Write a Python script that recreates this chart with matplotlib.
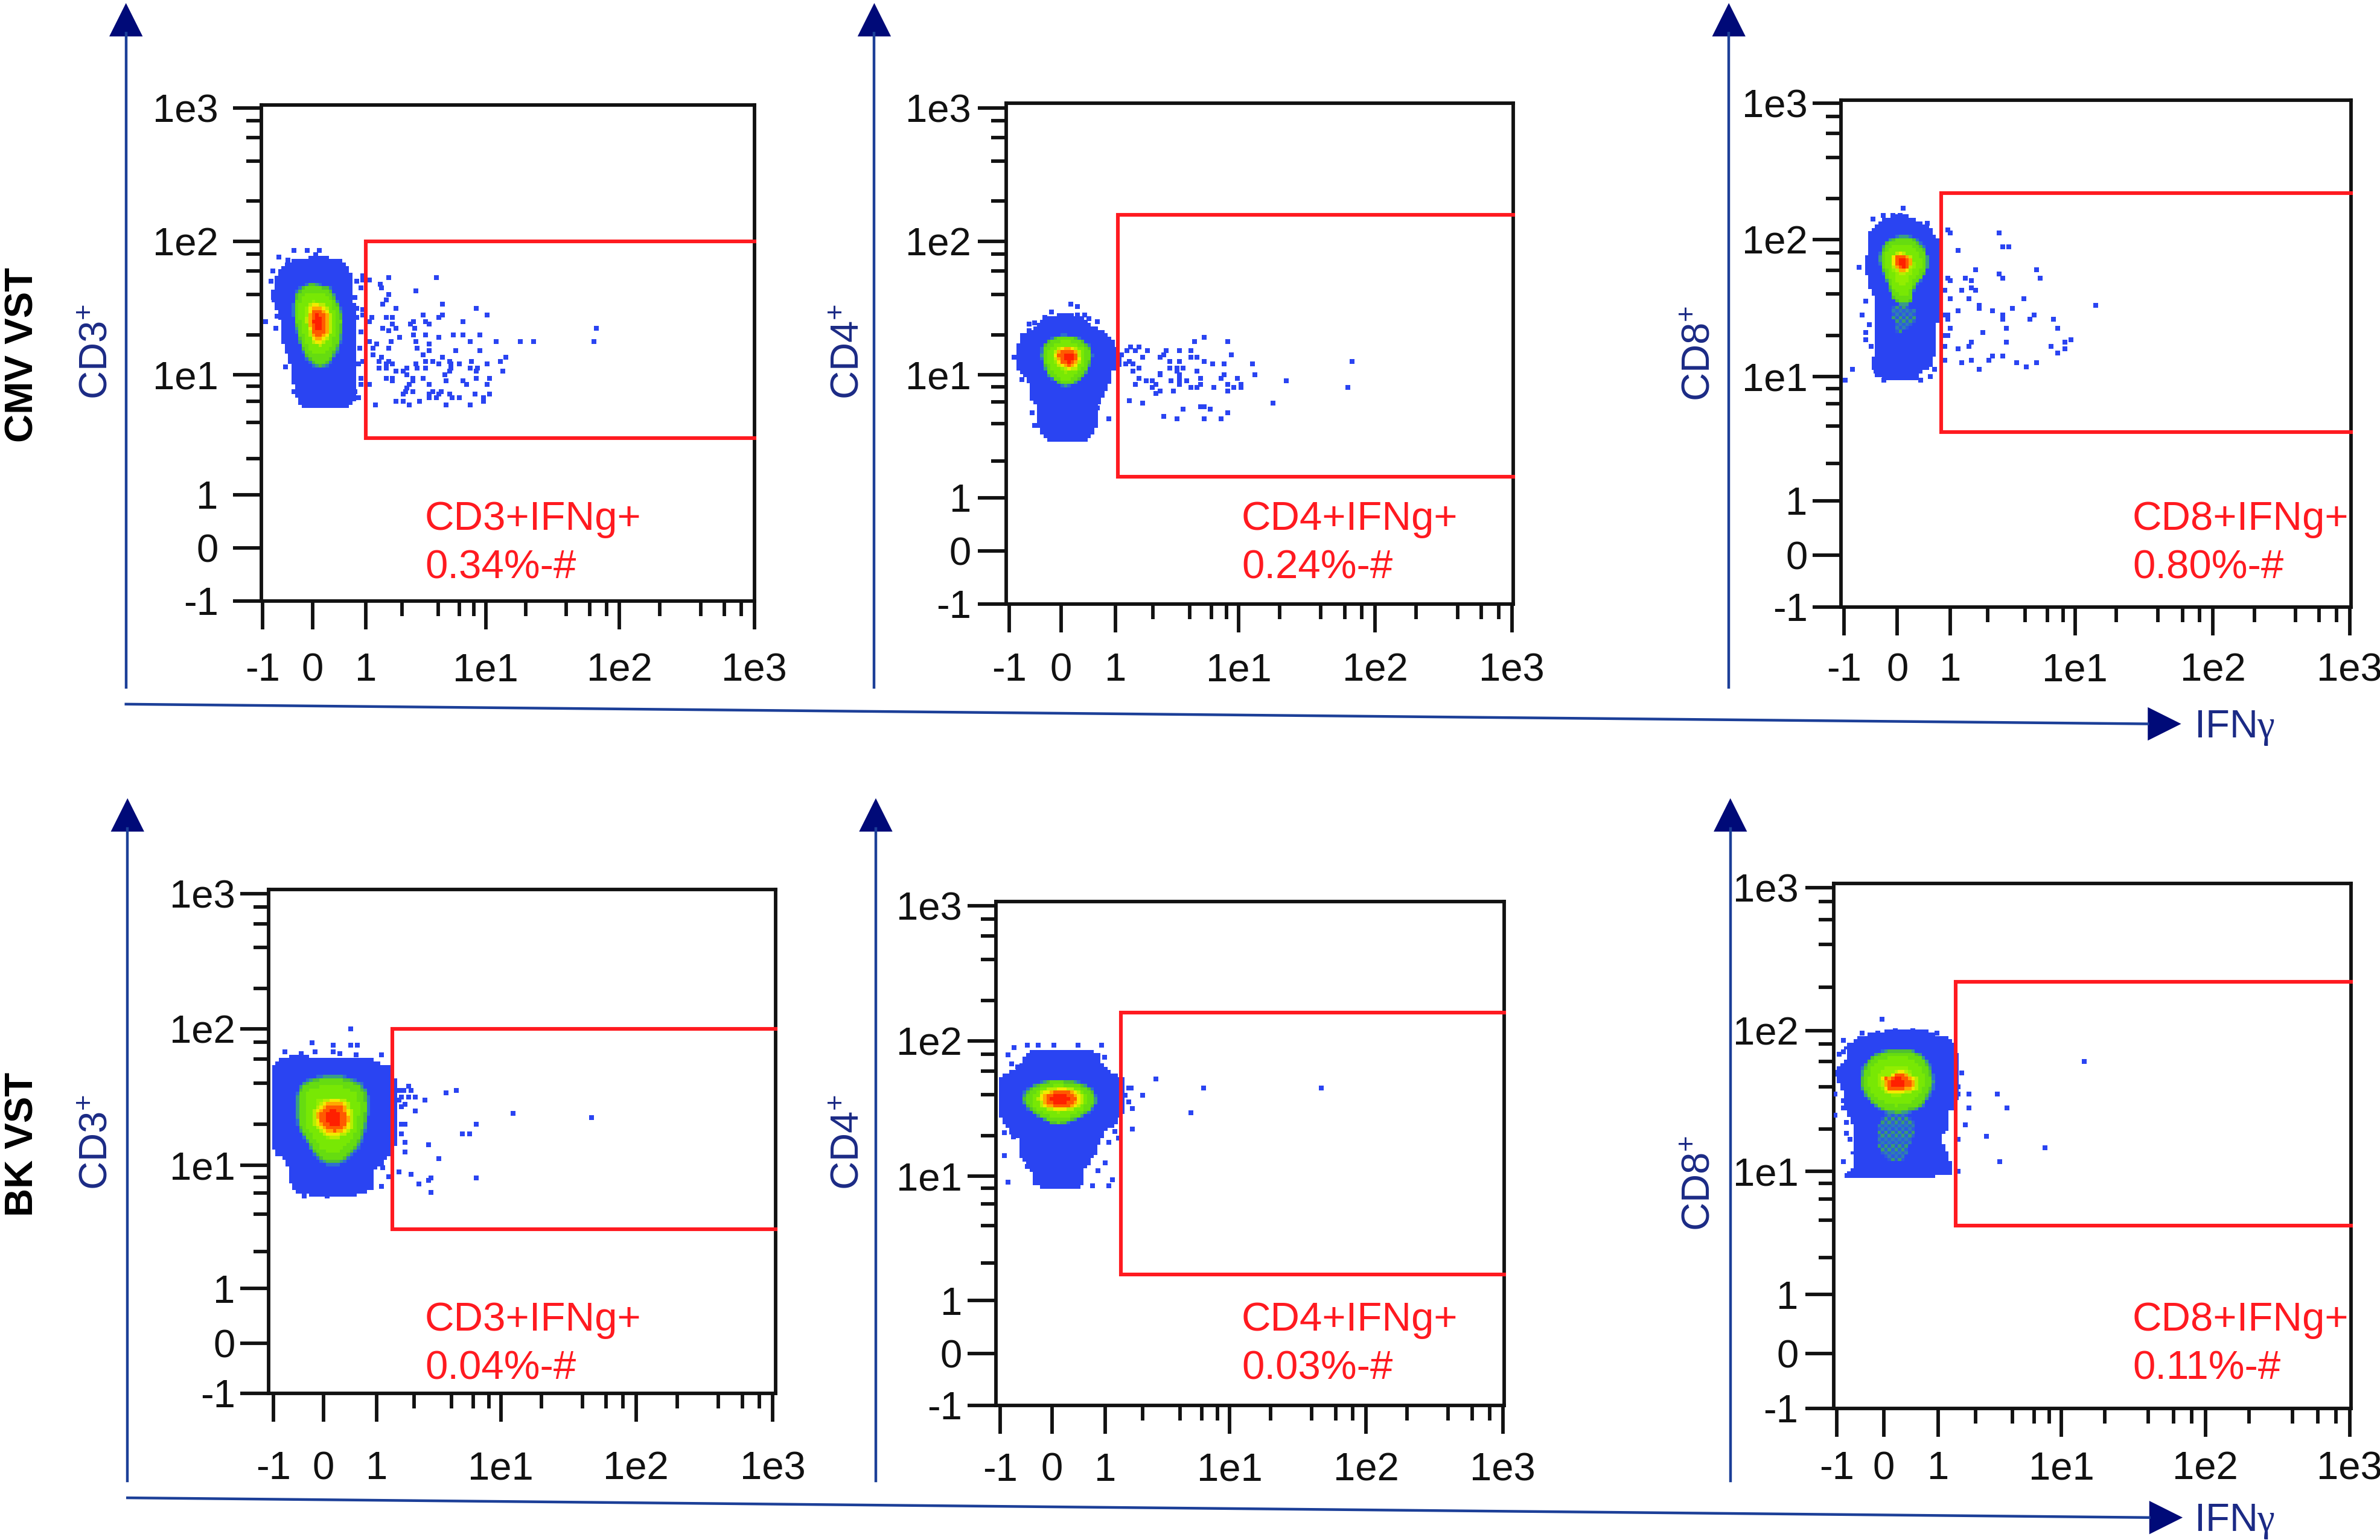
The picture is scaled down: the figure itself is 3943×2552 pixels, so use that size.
import matplotlib
matplotlib.use('Agg')
import matplotlib.pyplot as plt
from matplotlib.colors import BoundaryNorm, ListedColormap
from matplotlib.path import Path
from matplotlib.ticker import NullFormatter
import numpy as np

plt.rcParams['font.family'] = ['Liberation Sans', 'DejaVu Sans']
plt.rcParams['mathtext.fontset'] = 'custom'
plt.rcParams['mathtext.rm'] = 'Liberation Sans'
plt.rcParams['mathtext.default'] = 'rm'

# all values are in axis units: -1, 0, 1, then 2=1e1, 3=1e2, 4=1e3
TICK_UNITS = [-1, 0, 1, 2, 3, 4]
TICK_LABELS = ['-1', '0', '1', '1e1', '1e2', '1e3']
MINOR_MULTIPLES = [2, 4, 6, 8]
DECADES = [1, 2, 3]

TITLES = ['CD3+IFNg+', 'CD4+IFNg+', 'CD8+IFNg+', 'CD3+IFNg+', 'CD4+IFNg+', 'CD8+IFNg+']
PERCENTS = ['0.34%-#', '0.24%-#', '0.80%-#', '0.04%-#', '0.03%-#', '0.11%-#']
MARKERS = ['CD3', 'CD4', 'CD8', 'CD3', 'CD4', 'CD8']

GATE_LEFT = [1.0, 1.02, 0.83, 1.13, 1.13, 1.14]
GATE_TOP = [3.0, 3.20, 3.34, 3.0, 3.21, 3.34]
GATE_BOTTOM = [1.47, 1.17, 1.55, 1.48, 1.21, 1.56]

# events outside the dense population, as (y, [x, ...]) rows
cd3_cmv_rows = [
  (2.73, [1.19, 1.59]), (2.71, [1.03]), (2.68, [1.12]), (2.65, [1.13]), (2.63, [1.42]), (2.60, [1.19]),
  (2.56, [1.17]), (2.53, [1.14, 1.64]), (2.50, [1.25, 1.92]), (2.45, [1.48, 1.64, 2.01]),
  (2.43, [1.05, 1.17, 1.22, 1.61]), (2.40, [1.03, 1.40, 1.50, 1.81]), (2.38, [1.22, 1.37, 1.53]),
  (2.35, [1.14, 1.25, 1.41, 2.83]), (2.33, [1.19]), (2.30, [1.40, 1.50, 1.73, 1.81, 1.95]), (2.28, [1.28, 1.61]),
  (2.25, [1.03, 1.21, 1.42, 1.87, 2.08, 2.26, 2.36, 2.81]), (2.23, [1.09, 1.53]), (2.20, [1.06, 1.19, 1.43]),
  (2.18, [1.53, 1.75, 1.95]), (2.15, [1.06, 1.48]), (2.13, [1.13, 1.64, 2.15]),
  (2.10, [1.11, 1.19, 1.50, 1.56, 1.70, 1.88, 2.11]), (2.08, [1.17, 1.22, 1.42, 1.61, 1.71, 1.78, 2.01]),
  (2.05, [1.11, 1.17, 1.34, 1.43, 1.50, 1.71, 1.87, 1.93]), (2.03, [1.25, 1.31, 1.70, 1.92, 2.13]),
  (2.00, [1.34, 1.66]), (1.97, [1.17, 1.22, 1.39, 1.48, 1.92, 2.03]), (1.95, [1.22, 1.39, 1.67, 1.81]),
  (1.92, [1.03, 1.36, 1.53, 1.84, 2.01]), (1.89, [1.34]), (1.86, [1.33, 1.39, 1.56, 1.63]),
  (1.84, [1.31, 1.53, 1.61, 1.70, 1.91, 2.03]), (1.81, [1.53, 1.59, 1.72, 1.78, 1.98]),
  (1.78, [1.25, 1.31, 1.45, 1.98]), (1.75, [1.08, 1.36, 1.67, 1.87]),
  (2.93, [-0.37, -0.11, 0.13]), (2.90, [0.06]), (2.88, [-0.67]), (2.86, [-0.49]), (2.78, [-0.80]),
  (2.74, [0.94]), (2.71, [0.94]), (2.70, [-0.83, 0.83]), (2.65, [0.91]), (2.62, [-0.74]), (2.58, [0.80]),
  (2.56, [-0.77]), (2.50, [0.83]), (2.49, [0.94]), (2.45, [0.94]), (2.44, [-0.71]), (2.43, [0.83]),
  (2.40, [-0.94]), (2.35, [-0.74]), (2.32, [0.91]), (2.20, [0.89]), (2.10, [0.94]), (2.08, [0.86]),
  (2.06, [-0.54]), (1.97, [0.91]), (1.92, [0.91]), (1.86, [-0.37, 0.80]), (1.81, [0.51, 0.63, 0.86]),
]
cd4_cmv_rows = [
  (2.28, [1.72]), (2.25, [1.64, 1.91]), (2.21, [1.12, 1.19]), (2.18, [1.09, 1.16, 1.26, 1.41, 1.52, 1.61]),
  (2.15, [1.05, 1.39, 1.94]), (2.13, [1.22, 1.36, 1.61, 1.66]), (2.10, [1.11, 1.44, 1.52, 1.72, 2.83]),
  (2.08, [1.08, 1.14, 1.79, 1.88, 2.10]), (2.05, [1.19, 1.44, 1.50, 1.55]), (2.03, [1.14, 1.50, 1.66]),
  (2.01, [1.36]), (2.00, [1.36, 1.52, 1.88, 2.12]), (1.97, [1.19, 1.52, 1.69, 1.86, 1.99]),
  (1.95, [1.25, 1.30, 1.45, 1.52, 1.58, 2.35]), (1.92, [1.16, 1.33, 1.52, 1.69, 1.91, 2.02]),
  (1.90, [1.30, 1.61, 1.66, 1.80, 1.96, 2.02, 2.80]), (1.87, [1.36, 1.47, 1.91]), (1.85, [1.33]),
  (1.79, [1.11]), (1.77, [1.22, 2.25]), (1.74, [1.69, 1.72]), (1.72, [1.55, 1.77]), (1.69, [1.91]),
  (1.66, [1.39]), (1.64, [0.88, 1.50, 1.72, 1.86]),
  (2.53, [0.18]), (2.51, [0.30]), (2.47, [-0.19]), (2.45, [0.30, 0.43]), (2.43, [-0.31]), (2.42, [0.51]),
  (2.40, [0.67]), (2.39, [-0.51]), (2.38, [-0.62]), (2.33, [-0.62]), (2.13, [-0.91]), (1.96, [-0.76]),
  (1.95, [-0.62]), (1.73, [0.67]), (1.69, [-0.56]), (1.59, [-0.51]),
]
cd8_cmv_rows = [
  (3.07, [0.95]), (3.05, [1.00, 1.39]), (2.95, [1.42, 1.47]), (2.92, [1.06]), (2.78, [1.20, 1.69]), (2.75, [1.39]),
  (2.72, [0.95, 1.12, 1.42, 1.72]), (2.70, [1.00, 1.17]), (2.65, [1.17]), (2.63, [0.89, 1.09, 1.20]),
  (2.57, [1.00, 1.15, 1.59]), (2.52, [1.23, 2.15]), (2.50, [1.23, 1.50]), (2.48, [1.06, 1.34]),
  (2.45, [0.89, 0.95, 1.42, 1.67]), (2.42, [0.95, 1.42, 1.64, 1.83]), (2.35, [1.00, 1.45, 1.86]), (2.32, [1.26]),
  (2.30, [0.89, 0.95]), (2.27, [1.97]), (2.25, [1.17, 1.45, 1.92]), (2.22, [0.89, 1.15, 1.81]),
  (2.20, [1.06, 1.92]), (2.17, [1.86]), (2.15, [1.34, 1.42]), (2.12, [0.89, 1.17, 1.31]),
  (2.10, [1.09, 1.53, 1.69]), (2.07, [1.61]), (2.05, [1.23]),
  (3.23, [0.11]), (3.18, [-0.27, -0.08, 0.05]), (3.15, [-0.46]), (3.12, [0.56]), (2.80, [-0.72]), (2.55, [-0.60]),
  (2.45, [-0.66]), (2.38, [-0.53]), (2.32, [-0.60]), (2.27, [-0.60]), (2.22, [-0.49]), (2.05, [-0.85, 0.70]),
  (2.04, [-0.40]), (2.00, [0.62]), (1.97, [-0.98, -0.25, 0.44]),
]
cd3_bk_rows = [
  (2.58, [1.26]), (2.55, [1.18, 1.22, 1.28, 1.64]), (2.53, [1.56]), (2.50, [1.20, 1.26, 1.31]), (2.48, [1.18, 1.39]),
  (2.45, [1.23]), (2.43, [1.20]), (2.40, [1.31]), (2.38, [2.09]), (2.35, [2.67]), (2.30, [1.20, 1.23, 1.80]),
  (2.23, [1.20, 1.69, 1.75]), (2.17, [1.23]), (2.15, [1.42]), (2.10, [1.23]), (2.05, [1.50]), (1.95, [1.18]),
  (1.93, [1.28]), (1.90, [1.44, 1.80]), (1.88, [1.42]), (1.85, [1.34]), (1.78, [1.44]),
  (3.00, [0.51]), (2.90, [-0.22]), (2.88, [0.19, 0.51, 0.64]), (2.83, [-0.77, -0.16, 0.19]), (2.82, [-0.44, 0.31]),
  (2.81, [0.62, 1.04]), (1.98, [1.05]), (1.91, [1.10]), (1.83, [1.04]), (1.75, [-0.38, 0.07]),
]
cd4_bk_rows = [
  (2.72, [1.41]), (2.65, [1.19, 1.21, 1.79, 2.67]), (2.60, [1.16, 1.30]), (2.55, [1.19]), (2.50, [1.22]),
  (2.47, [1.69]), (2.35, [1.22]),
  (2.97, [-0.48, -0.26, 0.04, 0.49, 0.94]), (2.95, [-0.73]), (2.90, [-0.85]), (2.88, [0.99]), (2.83, [-0.78]),
  (2.81, [-0.66]), (2.33, [1.08]), (2.32, [-0.92]), (2.29, [-0.74]), (2.28, [1.11]), (2.25, [1.03]), (2.15, [-0.92]),
  (2.10, [1.00]), (2.07, [-0.47]), (2.04, [0.87]), (1.97, [1.06]), (1.95, [-0.85]), (1.92, [0.76, 1.03]),
]
cd8_bk_rows = [
  (2.78, [2.16]), (2.70, [1.19]), (2.60, [1.16]), (2.55, [1.16, 1.25, 1.48]), (2.45, [1.25, 1.56]), (2.33, [1.22]),
  (2.25, [1.39]), (2.23, [1.16]), (2.17, [1.87]), (2.07, [1.50]), (2.00, [1.16]),
  (3.08, [-0.04]), (3.00, [0.21, 0.53]), (2.98, [-0.46, -0.12, 0.97]), (2.93, [-0.86]), (2.85, [-0.86]),
  (2.83, [-0.95]), (2.55, [-1.03]), (2.50, [-0.86]), (2.45, [-0.86]), (2.40, [-1.03]), (2.35, [-0.79]),
  (2.27, [-0.79]), (2.23, [-0.71]), (2.07, [-0.86]), (1.97, [-0.78]),
]

# outlines of the density levels, (x, y)
cd3_cmv_outer = [(-0.17, 2.86), (0.40, 2.86), (0.60, 2.82), (0.71, 2.74), (0.76, 2.50), (0.78, 2.20), (0.82, 2.00),
                 (0.76, 1.91), (0.80, 1.81), (0.66, 1.74), (-0.20, 1.74), (-0.31, 1.81), (-0.37, 1.92), (-0.40, 2.04),
                 (-0.51, 2.17), (-0.60, 2.29), (-0.63, 2.44), (-0.80, 2.56), (-0.69, 2.74), (-0.54, 2.82)]
cd3_cmv_green = [(-0.17, 2.65), (-0.03, 2.68), (0.11, 2.66), (0.31, 2.65), (0.40, 2.58), (0.54, 2.46), (0.54, 2.34),
                 (0.46, 2.19), (0.23, 2.07), (0.0, 2.08), (-0.20, 2.20), (-0.34, 2.38), (-0.37, 2.49), (-0.31, 2.62)]
cd3_cmv_core = [(0.0, 2.50), (0.17, 2.49), (0.27, 2.44), (0.27, 2.32), (0.14, 2.27), (0.05, 2.28), (-0.05, 2.37), (-0.05, 2.43)]

cd4_cmv_outer = [(-0.03, 2.44), (0.23, 2.44), (0.51, 2.39), (0.51, 2.34), (0.76, 2.33), (0.84, 2.29), (0.96, 2.22),
                 (1.02, 2.13), (1.02, 2.04), (0.86, 2.01), (0.91, 1.96), (0.76, 1.85), (0.71, 1.79), (0.61, 1.68),
                 (0.66, 1.59), (0.48, 1.50), (0.46, 1.47), (0.03, 1.47), (-0.25, 1.48), (-0.41, 1.56), (-0.46, 1.67),
                 (-0.43, 1.75), (-0.56, 1.79), (-0.53, 1.90), (-0.66, 1.99), (-0.84, 2.05), (-0.84, 2.14), (-0.76, 2.29),
                 (-0.61, 2.31), (-0.46, 2.36), (-0.30, 2.40)]
cd4_cmv_green = [(-0.20, 2.26), (0.0, 2.29), (0.25, 2.28), (0.51, 2.22), (0.56, 2.14), (0.48, 2.04), (0.30, 1.95),
                 (0.10, 1.91), (-0.10, 1.95), (-0.28, 2.02), (-0.36, 2.13), (-0.33, 2.22)]
cd4_cmv_core = [(0.0, 2.19), (0.23, 2.19), (0.30, 2.13), (0.25, 2.07), (0.08, 2.06), (-0.08, 2.13)]

cd8_cmv_outer = [(-0.26, 3.14), (0.26, 3.16), (0.42, 3.10), (0.64, 3.08), (0.68, 2.99), (0.79, 2.99), (0.80, 2.40),
                 (0.68, 2.39), (0.68, 2.17), (0.64, 2.08), (0.42, 2.05), (0.38, 1.99), (-0.15, 1.99), (-0.38, 2.02),
                 (-0.45, 2.08), (-0.47, 2.12), (-0.38, 2.20), (-0.42, 2.35), (-0.42, 2.45), (-0.38, 2.52), (-0.45, 2.61),
                 (-0.57, 2.71), (-0.55, 2.93), (-0.55, 3.04), (-0.38, 3.07)]
cd8_cmv_green = [(-0.15, 2.99), (0.15, 3.03), (0.42, 2.98), (0.58, 2.86), (0.51, 2.74), (0.30, 2.67), (0.28, 2.55),
                 (0.08, 2.53), (-0.09, 2.58), (-0.15, 2.68), (-0.30, 2.80), (-0.32, 2.88), (-0.25, 2.95)]
cd8_cmv_tail = [(-0.08, 2.52), (0.34, 2.50), (0.32, 2.39), (0.11, 2.33), (-0.02, 2.32), (-0.08, 2.46)]
cd8_cmv_core = [(-0.04, 2.89), (0.19, 2.88), (0.26, 2.83), (0.11, 2.76), (-0.04, 2.81)]

cd3_bk_outer = [(-0.61, 2.79), (0.10, 2.77), (0.90, 2.77), (0.99, 2.73), (1.13, 2.71), (1.13, 2.13), (1.06, 2.07),
                (1.01, 2.01), (0.90, 1.94), (0.90, 1.77), (-0.54, 1.77), (-0.66, 1.90), (-0.66, 2.01), (-0.82, 2.07),
                (-0.99, 2.10), (-1.0, 2.73), (-0.80, 2.76)]
cd3_bk_green = [(-0.35, 2.61), (0.0, 2.64), (0.38, 2.64), (0.71, 2.59), (0.83, 2.47), (0.78, 2.31), (0.67, 2.16),
                (0.43, 2.06), (0.17, 2.01), (-0.09, 2.06), (-0.30, 2.18), (-0.47, 2.28), (-0.51, 2.41), (-0.47, 2.55)]
cd3_bk_core = [(0.10, 2.45), (0.31, 2.45), (0.43, 2.40), (0.45, 2.30), (0.29, 2.25), (0.10, 2.25), (-0.07, 2.31), (-0.10, 2.39)]

cd4_bk_outer = [(-0.50, 2.91), (0.21, 2.93), (0.58, 2.91), (0.87, 2.90), (0.92, 2.82), (1.01, 2.75), (1.10, 2.73),
                (1.13, 2.68), (1.13, 2.49), (1.06, 2.40), (0.96, 2.32), (0.87, 2.26), (0.82, 2.19), (0.72, 2.13),
                (0.60, 2.07), (0.60, 1.97), (0.52, 1.92), (-0.36, 1.92), (-0.36, 2.03), (-0.45, 2.10), (-0.57, 2.14),
                (-0.64, 2.23), (-0.60, 2.28), (-0.74, 2.28), (-0.83, 2.37), (-1.0, 2.44), (-1.0, 2.68), (-0.92, 2.74),
                (-0.55, 2.80)]
cd4_bk_green = [(-0.45, 2.65), (-0.17, 2.69), (0.11, 2.71), (0.63, 2.68), (0.80, 2.60), (0.80, 2.53), (0.63, 2.46),
                (0.35, 2.41), (0.09, 2.38), (-0.17, 2.43), (-0.41, 2.49), (-0.55, 2.56)]
cd4_bk_core = [(-0.17, 2.58), (0.0, 2.63), (0.35, 2.63), (0.49, 2.57), (0.33, 2.51), (-0.03, 2.51)]

cd8_bk_outer = [(-0.48, 2.94), (-0.14, 2.97), (0.36, 2.99), (0.80, 2.98), (0.99, 2.94), (1.12, 2.91), (1.12, 2.44),
                (1.04, 2.43), (1.06, 2.32), (0.99, 2.27), (1.01, 2.17), (1.06, 2.12), (1.06, 2.03), (1.12, 2.01),
                (0.80, 1.96), (-0.22, 1.96), (-0.82, 1.97), (-0.61, 2.04), (-0.65, 2.14), (-0.61, 2.27), (-0.65, 2.36),
                (-0.84, 2.45), (-0.82, 2.58), (-1.0, 2.66), (-1.0, 2.73), (-0.74, 2.78), (-0.74, 2.83), (-0.86, 2.86)]
cd8_bk_green = [(-0.18, 2.82), (0.07, 2.85), (0.47, 2.86), (0.77, 2.79), (0.88, 2.68), (0.88, 2.59), (0.69, 2.47),
                (0.44, 2.43), (0.14, 2.42), (-0.18, 2.47), (-0.44, 2.58), (-0.46, 2.66), (-0.39, 2.75)]
cd8_bk_tail = [(-0.01, 2.42), (0.47, 2.40), (0.58, 2.29), (0.44, 2.17), (0.36, 2.06), (-0.01, 2.09), (-0.14, 2.26)]
cd8_bk_core = [(0.01, 2.68), (0.10, 2.65), (0.27, 2.71), (0.51, 2.65), (0.51, 2.59), (0.10, 2.57), (0.07, 2.60)]

# layout, in pixels of a 1568 wide copy
W, H = 1568.0, 1014.8
BOXES = [(172, 497, 69, 396), (663, 997, 68, 398), (1213, 1549, 66, 400),
         (177, 511, 586, 918), (656, 991, 594, 926), (1208, 1549, 582, 928)]
X_TICK_PX = [[173, 206, 241, 320, 408, 497], [665, 699, 735, 816, 906, 996], [1215, 1250, 1285, 1367, 1458, 1548],
             [180, 213, 248, 330, 419, 509], [659, 693, 728, 810, 900, 990], [1210, 1241, 1277, 1358, 1453, 1548]]
Y_TICK_PX = [[396, 361, 326, 247, 159, 71], [398, 363, 328, 247, 159, 71], [400, 366, 330, 248, 158, 68],
             [918, 885, 849, 768, 678, 589], [926, 892, 857, 775, 686, 597], [928, 892, 853, 772, 679, 585]]
X_LABEL_PAD = [27.6, 24, 20.4, 34.9, 22.2, 16.8]
Y_LABEL_PAD = [17, 8, 6, 6, 6, 8]
TEXT_LEFT = [280, 818, 1405, 280, 818, 1405]
TEXT_BASE = [(349, 381)] * 3 + [(877, 909)] * 3
LABEL_X = [64, 559, 1120, 64, 559, 1120]
LABEL_Y = [232, 232, 233, 753, 753, 780]
CELL = 2.23

BLUE = '#2a44f2'
NAVY = '#000a78'
LINE_BLUE = '#1c3f98'
LABEL_BLUE = '#1b2a85'
RED = '#ff1a20'
INK = '#111111'
FS = 47
LW = 4.2

GREEN_LEVELS = [(1.08, '#2f6fd0'), (1.05, '#3a9c88'), (1.02, '#50c030'), (0.97, '#66dc10'), (0.8, '#78e804'), (0.5, '#92ee00')]
CORE_LEVELS = [(1.5, '#b8ee00'), (1.3, '#f2ea00'), (1.14, '#ffa800'), (0.97, '#ff5a00'), (0.6, '#ff2000')]
TAIL_COLORS = ['#3a9c70', '#2d60d8', '#2f7fb0', '#2d58e0']


def make_scale(units, px):
  # piecewise linear between the ticks, extended past both ends
  u = [units[0] - 1] + list(units) + [units[-1] + 1]
  p = [2 * px[0] - px[1]] + list(px) + [2 * px[-1] - px[-2]]
  def forward(v):
    return np.interp(v, u, p)
  def inverse(v):
    return np.interp(v, p, u)
  return forward, inverse


def rounded(poly, k=1.0, passes=2):
  # corner cutting, so the outlines read as density contours
  pts = np.array(poly, dtype=float)
  for _ in range(passes):
    nxt = np.roll(pts, -1, axis=0)
    pts = np.column_stack([0.75 * pts + 0.25 * nxt, 0.25 * pts + 0.75 * nxt]).reshape(-1, 2)
  c = pts.mean(axis=0)
  return c + (pts - c) * k


def density_cells(ax, left, right, top, bottom, gx, gy, outer, green, core, tail):
  # the plot is a raster of coarse cells, coloured by the level they fall in
  px = np.arange(left, right + CELL, CELL)
  py = np.arange(bottom, top - CELL, -CELL)
  xe = gx(px)
  ye = gy(-py)
  xc, yc = np.meshgrid((xe[:-1] + xe[1:]) / 2, (ye[:-1] + ye[1:]) / 2)
  pts = np.column_stack([xc.ravel(), yc.ravel()])

  colors = [BLUE]
  level = np.zeros(len(pts), dtype=int)
  level[Path(rounded(outer, 1.04)).contains_points(pts)] = 1
  if tail is not None:
    inside = Path(rounded(tail, 1.05)).contains_points(pts)
    ii, jj = np.meshgrid(np.arange(len(xe) - 1), np.arange(len(ye) - 1))
    pick = ((ii * ii + jj * 3) % 4).ravel()
    base = len(colors)
    colors += TAIL_COLORS
    level[inside] = base + 1 + pick[inside]
  for poly, levels in ((green, GREEN_LEVELS), (core, CORE_LEVELS)):
    for k, color in levels:
      colors.append(color)
      level[Path(rounded(poly, k)).contains_points(pts)] = len(colors)

  data = np.ma.masked_equal(level.reshape(xc.shape), 0)
  cmap = ListedColormap(colors)
  norm = BoundaryNorm(np.arange(0.5, len(colors) + 1), cmap.N)
  ax.pcolormesh(xe, ye, data, cmap=cmap, norm=norm, shading='flat', zorder=2, antialiased=False, linewidth=0)


def panel(i, rows, outer, green, core, tail=None):
  left, right, top, bottom = BOXES[i]
  ax = fig.add_axes([left / W, 1 - bottom / H, (right - left) / W, (bottom - top) / H])

  fx, gx = make_scale(TICK_UNITS, X_TICK_PX[i])
  fy, gy = make_scale(TICK_UNITS, [-p for p in Y_TICK_PX[i]])
  ax.set_xscale('function', functions=(fx, gx))
  ax.set_yscale('function', functions=(fy, gy))
  ax.set_xlim(gx(left), gx(right))
  ax.set_ylim(gy(-bottom), gy(-top))

  minor = [d + np.log10(m) for d in DECADES for m in MINOR_MULTIPLES]
  for axis in (ax.xaxis, ax.yaxis):
    axis.set_ticks(TICK_UNITS)
    axis.set_ticklabels(TICK_LABELS)
    axis.set_ticks(minor, minor=True)
    axis.set_minor_formatter(NullFormatter())
  ax.tick_params(which='major', length=34, width=LW, color=INK, labelcolor=INK, labelsize=FS)
  ax.tick_params(which='minor', length=18, width=LW, color=INK)
  ax.tick_params(axis='x', which='major', pad=X_LABEL_PAD[i])
  ax.tick_params(axis='y', which='major', pad=Y_LABEL_PAD[i])
  for s in ax.spines.values():
    s.set_linewidth(LW)
    s.set_color(INK)

  density_cells(ax, left, right, top, bottom, gx, gy, outer, green, core, tail)
  xs = [x for y, row in rows for x in row]
  ys = [y for y, row in rows for x in row]
  ax.scatter(xs, ys, s=28, marker='s', color=BLUE, lw=0, zorder=3)

  x1 = gx(right)
  ax.plot([x1, GATE_LEFT[i], GATE_LEFT[i], x1], [GATE_TOP[i], GATE_TOP[i], GATE_BOTTOM[i], GATE_BOTTOM[i]],
          color=RED, lw=4.4, solid_joinstyle='miter', zorder=20, clip_on=False)
  return ax


fig = plt.figure(figsize=(39.43, 25.52), dpi=100)

panel(0, cd3_cmv_rows, cd3_cmv_outer, cd3_cmv_green, cd3_cmv_core)
panel(1, cd4_cmv_rows, cd4_cmv_outer, cd4_cmv_green, cd4_cmv_core)
panel(2, cd8_cmv_rows, cd8_cmv_outer, cd8_cmv_green, cd8_cmv_core, cd8_cmv_tail)
panel(3, cd3_bk_rows, cd3_bk_outer, cd3_bk_green, cd3_bk_core)
panel(4, cd4_bk_rows, cd4_bk_outer, cd4_bk_green, cd4_bk_core)
panel(5, cd8_bk_rows, cd8_bk_outer, cd8_bk_green, cd8_bk_core, cd8_bk_tail)

# overlay for the arrows and the free text
bg = fig.add_axes([0, 0, 1, 1])
bg.set_xlim(0, W)
bg.set_ylim(H, 0)
bg.axis('off')
bg.patch.set_alpha(0)


def up_arrow(x, tip, end):
  bg.plot([x, x], [tip + 20, end], color=LINE_BLUE, lw=3.2)
  bg.fill([x - 11, x, x + 11], [tip + 22, tip, tip + 22], color=NAVY, lw=0)


def right_arrow(x0, y0, x1, y1):
  bg.plot([x0, x1], [y0, y1], color=LINE_BLUE, lw=3.2)
  bg.fill([x1, x1 + 22, x1], [y1 - 11, y1, y1 + 11], color=NAVY, lw=0)
  bg.text(1446, y1 + 9, 'IFN', fontsize=FS, color=LABEL_BLUE, va='baseline')
  bg.text(1487, y1 + 9, '\u03b3', fontsize=FS, color=LABEL_BLUE, va='baseline', family=['Liberation Serif', 'DejaVu Serif'])


for x in (83, 576, 1139):
  up_arrow(x, 2, 453)
for x in (84, 577, 1140):
  up_arrow(x, 526, 976)
right_arrow(83, 464, 1415, 477)
right_arrow(84, 987, 1416, 1000)

for i in range(6):
  x = TEXT_LEFT[i]
  y0, y1 = TEXT_BASE[i]
  bg.text(x, y0, TITLES[i], fontsize=48.4, color=RED, va='baseline', zorder=30)
  bg.text(x, y1, PERCENTS[i], fontsize=48.4, color=RED, va='baseline', zorder=30)
  bg.text(LABEL_X[i], LABEL_Y[i], MARKERS[i] + r'$^{+}$', rotation=90, fontsize=FS, color=LABEL_BLUE,
          ha='center', va='center')

bg.text(15, 234, 'CMV VST', rotation=90, fontsize=FS, fontweight='bold', color='black', ha='center', va='center')
bg.text(15, 754, 'BK VST', rotation=90, fontsize=FS, fontweight='bold', color='black', ha='center', va='center')

fig.savefig('out.png', dpi=100)
